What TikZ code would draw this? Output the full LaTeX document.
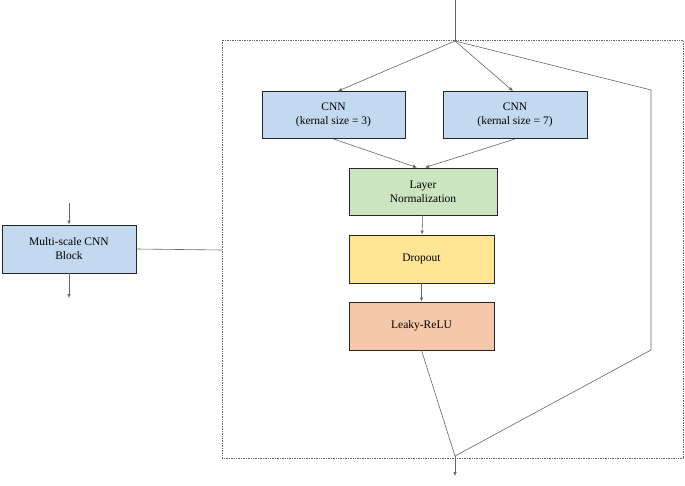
\documentclass[tikz,border=0pt]{standalone}
\usepackage{fontspec}
\setmainfont{Liberation Serif}
\usetikzlibrary{arrows.meta}
\definecolor{cblue}{HTML}{C3D9EF}
\definecolor{cgreen}{HTML}{CCE4C0}
\definecolor{cyellow}{HTML}{FFE594}
\definecolor{corange}{HTML}{F6C8AB}
\begin{document}
\begin{tikzpicture}[x=1pt,y=-1pt,
  box/.style={draw=black!85,line width=0.9pt,inner sep=0pt,align=center,font=\fontsize{11.5}{14}\selectfont},
  ln/.style={draw=black!60,line width=0.6pt},
  arr/.style={ln,-{Latex[length=4pt,width=3.5pt]}}]
\useasboundingbox (0,0) rectangle (685,486);
\draw[black!60,densely dotted,line width=0.7pt] (222,40) rectangle (683,458);
\node[box,fill=cblue,minimum width=143pt,minimum height=47pt] (c1) at (333.5,115) {CNN\\(kernal size = 3)};
\node[box,fill=cblue,minimum width=144pt,minimum height=47pt] (c2) at (515,115) {CNN\\(kernal size = 7)};
\node[box,fill=cgreen,minimum width=148pt,minimum height=47pt] (lnorm) at (423,191.5) {Layer\\Normalization};
\node[box,fill=cyellow,minimum width=145pt,minimum height=48pt] (dr) at (421.5,259) {Dropout};
\node[box,fill=corange,minimum width=145pt,minimum height=48pt] (lr) at (421.5,326) {Leaky-ReLU};
\node[box,fill=cblue,minimum width=134pt,minimum height=48pt] (ms) at (69,249) {Multi-scale CNN\\Block};
\coordinate (top) at (455,0);
\coordinate (split) at (455,41);
\coordinate (corner1) at (651,90);
\coordinate (corner2) at (651,350);
\coordinate (join) at (455,456);
\coordinate (out) at (455,476);
\coordinate (msin) at (69,203);
\coordinate (msout) at (69,298);
\coordinate (boxl) at (222,250);
\draw[ln] (top) -- (split);
\draw[arr] (split) -- (c1.north -| 338,0);
\draw[arr] (split) -- (c2.north -| 513,0);
\draw[ln] (split) -- (corner1) -- (corner2) -- (join);
\draw[arr] (c1.south) -- (lnorm.north -| 417,0);
\draw[arr] (c2.south) -- (lnorm.north -| 425,0);
\draw[arr] (lnorm) -- (dr);
\draw[arr] (dr) -- (lr);
\draw[ln] (lr.south) -- (join);
\draw[arr] (join) -- (out);
\draw[arr] (msin) -- (ms.north);
\draw[arr] (ms.south) -- (msout);
\draw[ln] (ms.east) -- (boxl);
\end{tikzpicture}
\end{document}
